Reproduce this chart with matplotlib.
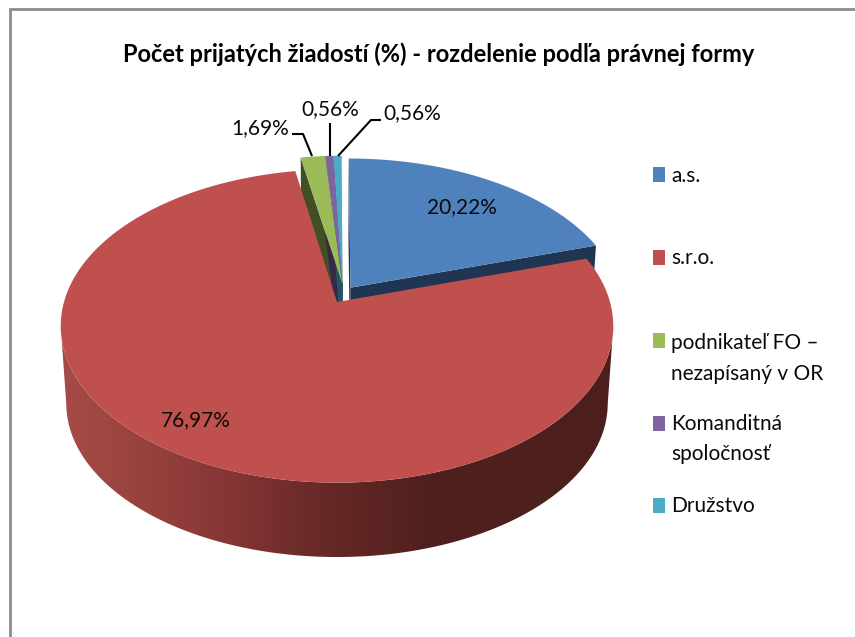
import numpy as np
import matplotlib
matplotlib.use("Agg")
import matplotlib.pyplot as plt
from matplotlib.patches import Polygon, Rectangle

plt.rcParams['font.family'] = ['Lato', 'DejaVu Sans']

title = "Počet prijatých žiadostí (%) - rozdelenie podľa právnej formy"
categories = ["a.s.", "s.r.o.", "podnikateľ FO –\nnezapísaný v OR", "Komanditná\nspoločnosť", "Družstvo"]
values = [20.22, 76.97, 1.69, 0.56, 0.56]
value_labels = ["20,22%", "76,97%", "1,69%", "0,56%", "0,56%"]
top_colors = ["#4F81BD", "#C0504D", "#9BBB59", "#8064A2", "#4BACC6"]
side_colors = ["#1F3552", "#8A3836", "#414F25", "#352848", "#1F5566"]

# slice displacement in the pie's plane
offset_u = [0.05, 0.0, 0.02, 0.02, 0.02]
offset_v = [0.095, 0.0, 0.12, 0.12, 0.12]

W, H = 855, 637
CX, CY, A, B, K = 337, 302, 273, 153, 0.153
DEPTH, SHRINK = 78, 0.98

fig = plt.figure(figsize=(W / 100, H / 100), dpi=100)
ax = fig.add_axes([0, 0, 1, 1])


def proj(u, v, low=False):
    w = 1 + K * v
    x = A * u / w
    y = -B * v / w
    if low:
        return CX + SHRINK * x, CY + DEPTH + SHRINK * y
    return CX + x, CY + y


def sector(t0, t1, ou, ov):
    th = np.radians(np.linspace(t0, t1, max(int(abs(t1 - t0) * 2), 6)))
    u = np.r_[ou, ou + np.sin(th)]
    v = np.r_[ov, ov + np.cos(th)]
    return np.column_stack(proj(u, v))


def radial_wall(t, ou, ov):
    th = np.radians(t)
    u = np.array([ou, ou + np.sin(th)])
    v = np.array([ov, ov + np.cos(th)])
    a = np.column_stack(proj(u, v))
    b = np.column_stack(proj(u, v, True))
    return np.vstack([a, b[::-1]])


edges = 360 * np.r_[0, np.cumsum(values)] / np.sum(values)

# frame: top and left edges only
ax.plot([10, 10, W], [H, 9, 9], color="#8C8C8C", lw=2.0, solid_joinstyle="miter", zorder=1)

# cut faces of the displaced slices
for i in [0, 2, 3, 4]:
    for t in (edges[i], edges[i + 1]):
        ax.add_patch(Polygon(radial_wall(t, offset_u[i], offset_v[i]),
                             fc=side_colors[i], ec="none", zorder=1))

# outer wall of the large slice, shaded left to right
shade_x = np.array([60, 140, 220, 300, 370, 430, 612])
shade_rgb = np.array([[0xA6, 0x4C, 0x48], [0x98, 0x42, 0x3E], [0x88, 0x37, 0x36],
                      [0x6E, 0x2C, 0x2A], [0x5C, 0x25, 0x23], [0x4F, 0x20, 0x1E],
                      [0x4C, 0x1F, 0x1D]]) / 255
xs = np.linspace(55, 620, 566)
grad = np.stack([np.interp(xs, shade_x, shade_rgb[:, c]) for c in range(3)], axis=-1)[None, :, :]
im = ax.imshow(grad, extent=(55, 620, 565, 315), aspect="auto", zorder=2, interpolation="bilinear")
th = np.radians(np.linspace(edges[1], edges[2], 721))
front = np.cos(th) <= -K
u, v = np.sin(th[front]), np.cos(th[front])
wall_poly = Polygon(np.vstack([np.column_stack(proj(u, v)),
                               np.column_stack(proj(u, v, True))[::-1]]),
                    transform=ax.transData, fc="none", ec="none")
ax.add_patch(wall_poly)
im.set_clip_path(wall_poly)

# top faces
for i in [2, 3, 4, 0, 1]:
    ax.add_patch(Polygon(sector(edges[i], edges[i + 1], offset_u[i], offset_v[i]),
                         fc=top_colors[i], ec="none", zorder=3))

ax.set_xlim(0, W)
ax.set_ylim(H, 0)
ax.axis("off")

# title
label_kw = dict(va="center", color="#0A0A0A", zorder=5, fontsize=15, ha="center")
ax.text(438.5, 54, title, ha="center", fontsize=17, fontweight="bold", va="center",
        color="#000000", zorder=5)

# value labels
ax.text(461.5, 207, value_labels[0], **label_kw)
ax.text(196, 420, value_labels[1], **label_kw)
ax.text(260, 128, value_labels[2], **label_kw)
ax.text(330, 109, value_labels[3], **label_kw)
ax.text(412.5, 113, value_labels[4], **label_kw)

# leader lines
leader_kw = dict(color="#000000", lw=1.5, solid_capstyle="butt", zorder=4)
ax.plot([292, 303, 312], [134, 134, 156], **leader_kw)
ax.plot([330, 330], [123, 156], **leader_kw)
ax.plot([381, 371, 338], [120, 120, 156], **leader_kw)

# legend
swatch_y = [174.5, 257.5, 340.5, 423, 505.5]
text_y = [175.5, 258.5, 358.5, 439, 506.5]
for c, sy, ty, col in zip(categories, swatch_y, text_y, top_colors):
    ax.add_patch(Rectangle((653, sy - 7.5), 12, 15, fc=col, ec="none", zorder=3))
    ax.text(671, ty, c, ha="left", va="center", fontsize=15, linespacing=1.65,
            color="#0A0A0A", zorder=5)

fig.savefig("out.png", dpi=100)
